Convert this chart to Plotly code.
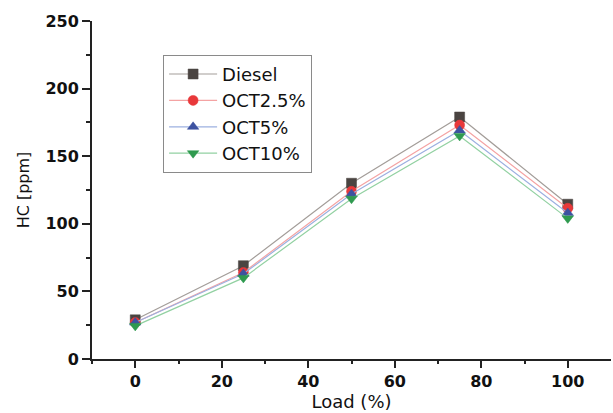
import plotly.graph_objects as go

load = [0, 25, 50, 75, 100]
diesel = [29, 69, 130, 179, 114.5]
oct25 = [27, 64, 124, 173, 111.5]
oct5 = [27, 63, 122, 169, 108]
oct10 = [24.5, 60, 118.5, 165, 104]

names = ["Diesel", "OCT2.5%", "OCT5%", "OCT10%"]
series = [diesel, oct25, oct5, oct10]
symbols = ["square", "circle", "triangle-up", "triangle-down"]
mcolors = ["#4a4441", "#e8383a", "#3d52a1", "#2f9a4f"]
lcolors = ["#a39d99", "#f4a3a3", "#9cb0e0", "#92d1a2"]

FONT = "DejaVu Sans"

fig = go.Figure()
for n, s, sym, mc, lc in zip(names, series, symbols, mcolors, lcolors):
    fig.add_trace(go.Scatter(
        x=load, y=s, name=n, mode="lines+markers",
        line=dict(color=lc, width=1.2),
        marker=dict(symbol=sym, size=10, color=mc,
                    line=dict(color=mc, width=0.5)),
    ))

axis_common = dict(
    showline=True, linewidth=2, linecolor="#222222",
    ticks="outside", tickwidth=1.5, tickcolor="#222222",
    showgrid=False, zeroline=False,
    tickfont=dict(family=FONT, size=16, color="#111111", weight="bold"),
)

fig.update_layout(
    width=613, height=413,
    margin=dict(l=92, r=2, t=21, b=54),
    paper_bgcolor="white", plot_bgcolor="white",
    font=dict(family=FONT, color="#111111"),
    showlegend=True,
    legend=dict(
        x=0.137, y=0.90, xanchor="left", yanchor="top",
        bordercolor="#8a8a8a", borderwidth=1, bgcolor="white",
        font=dict(size=18, family=FONT, color="#111111"),
        tracegroupgap=0, itemwidth=48,
    ),
    xaxis=dict(
        range=[-10, 110], tickvals=[0, 20, 40, 60, 80, 100], ticklen=7,
        minor=dict(ticks="outside", tickvals=[-10, 10, 30, 50, 70, 90], ticklen=3,
                   tickwidth=1.5, tickcolor="#222222"),
        title=dict(text="Load (%)", font=dict(size=18), standoff=4),
        **axis_common,
    ),
    yaxis=dict(
        range=[0, 250], tickvals=[0, 50, 100, 150, 200, 250], ticklen=8,
        minor=dict(ticks="outside", tickvals=[25, 75, 125, 175, 225], ticklen=4,
                   tickwidth=1.5, tickcolor="#222222"),
        title=dict(text="HC [ppm]", font=dict(size=16), standoff=12),
        **axis_common,
    ),
)

fig.write_html("out.html")
